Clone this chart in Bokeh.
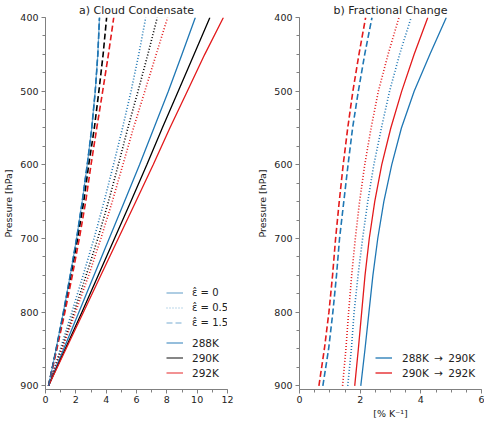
from bokeh.plotting import figure
from bokeh.models import Range1d, Legend, LegendItem, Label, FixedTicker
from bokeh.layouts import row
from bokeh.embed import file_html
from bokeh.resources import INLINE

# ---------------- data ----------------
pressure = [900, 850, 800, 750, 700, 650, 600, 550, 500, 450, 400]

# a) cloud condensate q_c [g/kg]
qc_288_e0 = [0.2, 1.2, 2.2, 3.2, 4.2, 5.2, 6.2, 7.15, 8.1, 9.0, 9.88]
qc_290_e0 = [0.2, 1.3, 2.4, 3.48, 4.55, 5.62, 6.68, 7.7, 8.75, 9.8, 10.84]
qc_292_e0 = [0.2, 1.35, 2.5, 3.65, 4.8, 5.95, 7.1, 8.2, 9.35, 10.5, 11.73]
qc_288_e05 = [0.2, 0.98, 1.74, 2.48, 3.2, 3.86, 4.48, 5.08, 5.64, 6.15, 6.61]
qc_290_e05 = [0.2, 1.05, 1.88, 2.68, 3.45, 4.15, 4.8, 5.43, 6.1, 6.75, 7.37]
qc_292_e05 = [0.2, 1.1, 1.98, 2.85, 3.65, 4.4, 5.1, 5.8, 6.55, 7.3, 8.05]
qc_288_e15 = [0.2, 0.7, 1.18, 1.63, 2.05, 2.42, 2.75, 3.05, 3.28, 3.45, 3.56]
qc_290_e15 = [0.2, 0.72, 1.22, 1.68, 2.12, 2.52, 2.85, 3.22, 3.52, 3.8, 4.03]
qc_292_e15 = [0.2, 0.75, 1.28, 1.77, 2.23, 2.65, 3.0, 3.38, 3.77, 4.15, 4.5]

# b) fractional change [% / K]
fr_288_e0 = [2.02, 2.16, 2.29, 2.42, 2.58, 2.78, 3.04, 3.36, 3.78, 4.30, 4.84]
fr_290_e0 = [1.82, 1.94, 2.05, 2.16, 2.30, 2.48, 2.71, 3.01, 3.37, 3.78, 4.23]
fr_288_e05 = [1.59, 1.71, 1.80, 1.93, 2.08, 2.25, 2.45, 2.70, 2.97, 3.30, 3.68]
fr_290_e05 = [1.42, 1.53, 1.62, 1.72, 1.84, 1.98, 2.15, 2.36, 2.60, 2.92, 3.28]
fr_288_e15 = [0.77, 0.96, 1.10, 1.22, 1.32, 1.46, 1.60, 1.75, 1.94, 2.15, 2.39]
fr_290_e15 = [0.64, 0.82, 0.97, 1.09, 1.19, 1.31, 1.44, 1.59, 1.76, 1.96, 2.18]

eps_labels = ["\u03b5\u0302 = 0", "\u03b5\u0302 = 0.5", "\u03b5\u0302 = 1.5"]
temp_labels = ["288K", "290K", "292K"]
change_labels = ["288K\u2002\u2192\u2002290K", "290K\u2002\u2192\u2002292K"]

y_ticks = [400, 500, 600, 700, 800, 900]
y_minor = [400 + 25 * i for i in range(21)]
xa_ticks = [0, 2, 4, 6, 8, 10, 12]
xa_minor = list(range(0, 13))
xb_ticks = [0, 2, 4, 6]
xb_minor = [0.5 * i for i in range(13)]

# ---------------- style ----------------
FONT = "DejaVu Sans"
BLUE = "#1f77b4"
RED = "#e31a1c"
BLACK = "#000000"
AXC = "#808080"
TXT = "#222222"
DASH = {"solid": "solid", "dot": "1 2", "dash": "6 3"}
LW = {"solid": 1.3, "dot": 1.6, "dash": 1.6}
FIG_H = 421


def make_fig(width, left, right, xmax, title, ticks, minor):
    p = figure(width=width, height=FIG_H, output_backend="svg", toolbar_location=None,
               x_range=Range1d(0, xmax), y_range=Range1d(905, 400),
               min_border_left=left, min_border_right=right,
               min_border_top=15, min_border_bottom=30)
    p.title.text = title
    p.title.align = "center"
    p.title.text_font = FONT
    p.title.text_font_size = "11px"
    p.title.text_font_style = "normal"
    p.title.text_color = TXT
    p.title.standoff = 2
    p.grid.visible = False
    p.outline_line_color = None
    p.xaxis.ticker = FixedTicker(ticks=ticks, minor_ticks=minor)
    p.yaxis.ticker = FixedTicker(ticks=y_ticks, minor_ticks=y_minor)
    for ax in (p.xaxis, p.yaxis):
        ax.axis_line_color = AXC
        ax.major_tick_line_color = AXC
        ax.minor_tick_line_color = AXC
        ax.major_tick_out = 4
        ax.major_tick_in = 0
        ax.minor_tick_out = 3
        ax.minor_tick_in = 0
        ax.major_label_text_font = FONT
        ax.major_label_text_font_size = "9.5px"
        ax.major_label_text_color = TXT
        ax.major_label_standoff = 2
        ax.axis_label_text_font = FONT
        ax.axis_label_text_font_size = "9.5px"
        ax.axis_label_text_font_style = "normal"
        ax.axis_label_text_color = TXT
        ax.axis_label_standoff = 2
    p.yaxis.axis_label = "Pressure [hPa]"
    p.yaxis.major_label_standoff = 3
    p.yaxis.axis_label_standoff = 3
    return p


def style_legend(items, loc, size="10px", standoff=9):
    return Legend(items=items, location=loc, orientation="vertical",
                  border_line_color=None, background_fill_alpha=0,
                  padding=0, margin=0, spacing=2, glyph_width=17,
                  glyph_height=13, label_height=13, label_standoff=standoff,
                  label_text_font=FONT, label_text_font_size=size,
                  label_text_color=TXT)


# ---------------- panel a ----------------
p1 = make_fig(254, 38, 27, 12, "a) Cloud Condensate", xa_ticks, xa_minor)

left_series = [
    (qc_288_e15, BLUE, "dash"), (qc_290_e15, BLACK, "dash"), (qc_292_e15, RED, "dash"),
    (qc_288_e05, BLUE, "dot"), (qc_290_e05, BLACK, "dot"), (qc_292_e05, RED, "dot"),
    (qc_288_e0, BLUE, "solid"), (qc_290_e0, BLACK, "solid"), (qc_292_e0, RED, "solid"),
]
for vals, col, st in left_series:
    p1.line(x=vals, y=pressure, line_color=col, line_width=LW[st], line_dash=DASH[st])

# light proxy lines used for the style legend, drawn along the 288K / 1.5 curve
proxy = []
for st in ("solid", "dot", "dash"):
    proxy.append(p1.line(x=qc_288_e15, y=pressure, line_color=BLUE, line_alpha=0.6,
                         line_width=1.2, line_dash=DASH[st]))
temp_proxy = []
for col in (BLUE, BLACK, RED):
    temp_proxy.append(p1.line(x=[float("nan")], y=[float("nan")], line_color=col,
                              line_alpha=0.6, line_width=1.6))

lg1 = style_legend([LegendItem(label=l, renderers=[r]) for l, r in zip(eps_labels, proxy)], (121, 60))
lg2 = style_legend([LegendItem(label=l, renderers=[r]) for l, r in zip(temp_labels, temp_proxy)], (121, 10), "10.5px")
p1.add_layout(lg1)
p1.add_layout(lg2)

# x-axis label with subscript
try:
    xl_y = 413
    parts = [
        (113, xl_y, "q", "10px", "italic"),
        (119, xl_y + 3, "c", "7.5px", "italic"),
        (125, xl_y, "[gkg\u207b\u00b9]", "9.5px", "normal"),
    ]
    for xx, yy, tt, fs, fst in parts:
        p1.add_layout(Label(x=xx, y=yy, x_units="canvas", y_units="canvas", text=tt,
                            text_font=FONT, text_font_size=fs, text_font_style=fst,
                            text_color=TXT, text_baseline="middle", text_align="left"))
    p1.xaxis.axis_label = " "
except Exception:
    p1.xaxis.axis_label = "qc [gkg\u207b\u00b9]"

# ---------------- panel b ----------------
p2 = make_fig(230, 38, 3, 6, "b) Fractional Change", xb_ticks, xb_minor)
p2.xaxis.axis_label = "[% K\u207b\u00b9]"

right_series = [
    (fr_290_e15, RED, "dash"), (fr_288_e15, BLUE, "dash"),
    (fr_290_e05, RED, "dot"), (fr_288_e05, BLUE, "dot"),
]
for vals, col, st in right_series:
    p2.line(x=vals, y=pressure, line_color=col, line_width=LW[st], line_dash=DASH[st])
rb = p2.line(x=fr_288_e0, y=pressure, line_color=BLUE, line_width=1.3)
rr = p2.line(x=fr_290_e0, y=pressure, line_color=RED, line_width=1.3)

lg3 = style_legend([LegendItem(label=change_labels[0], renderers=[rb]),
                    LegendItem(label=change_labels[1], renderers=[rr])], (76, 10), "10.5px", 10)
p2.add_layout(lg3)

layout = row(p1, p2)
open("out.html", "w").write(file_html(layout, INLINE))
